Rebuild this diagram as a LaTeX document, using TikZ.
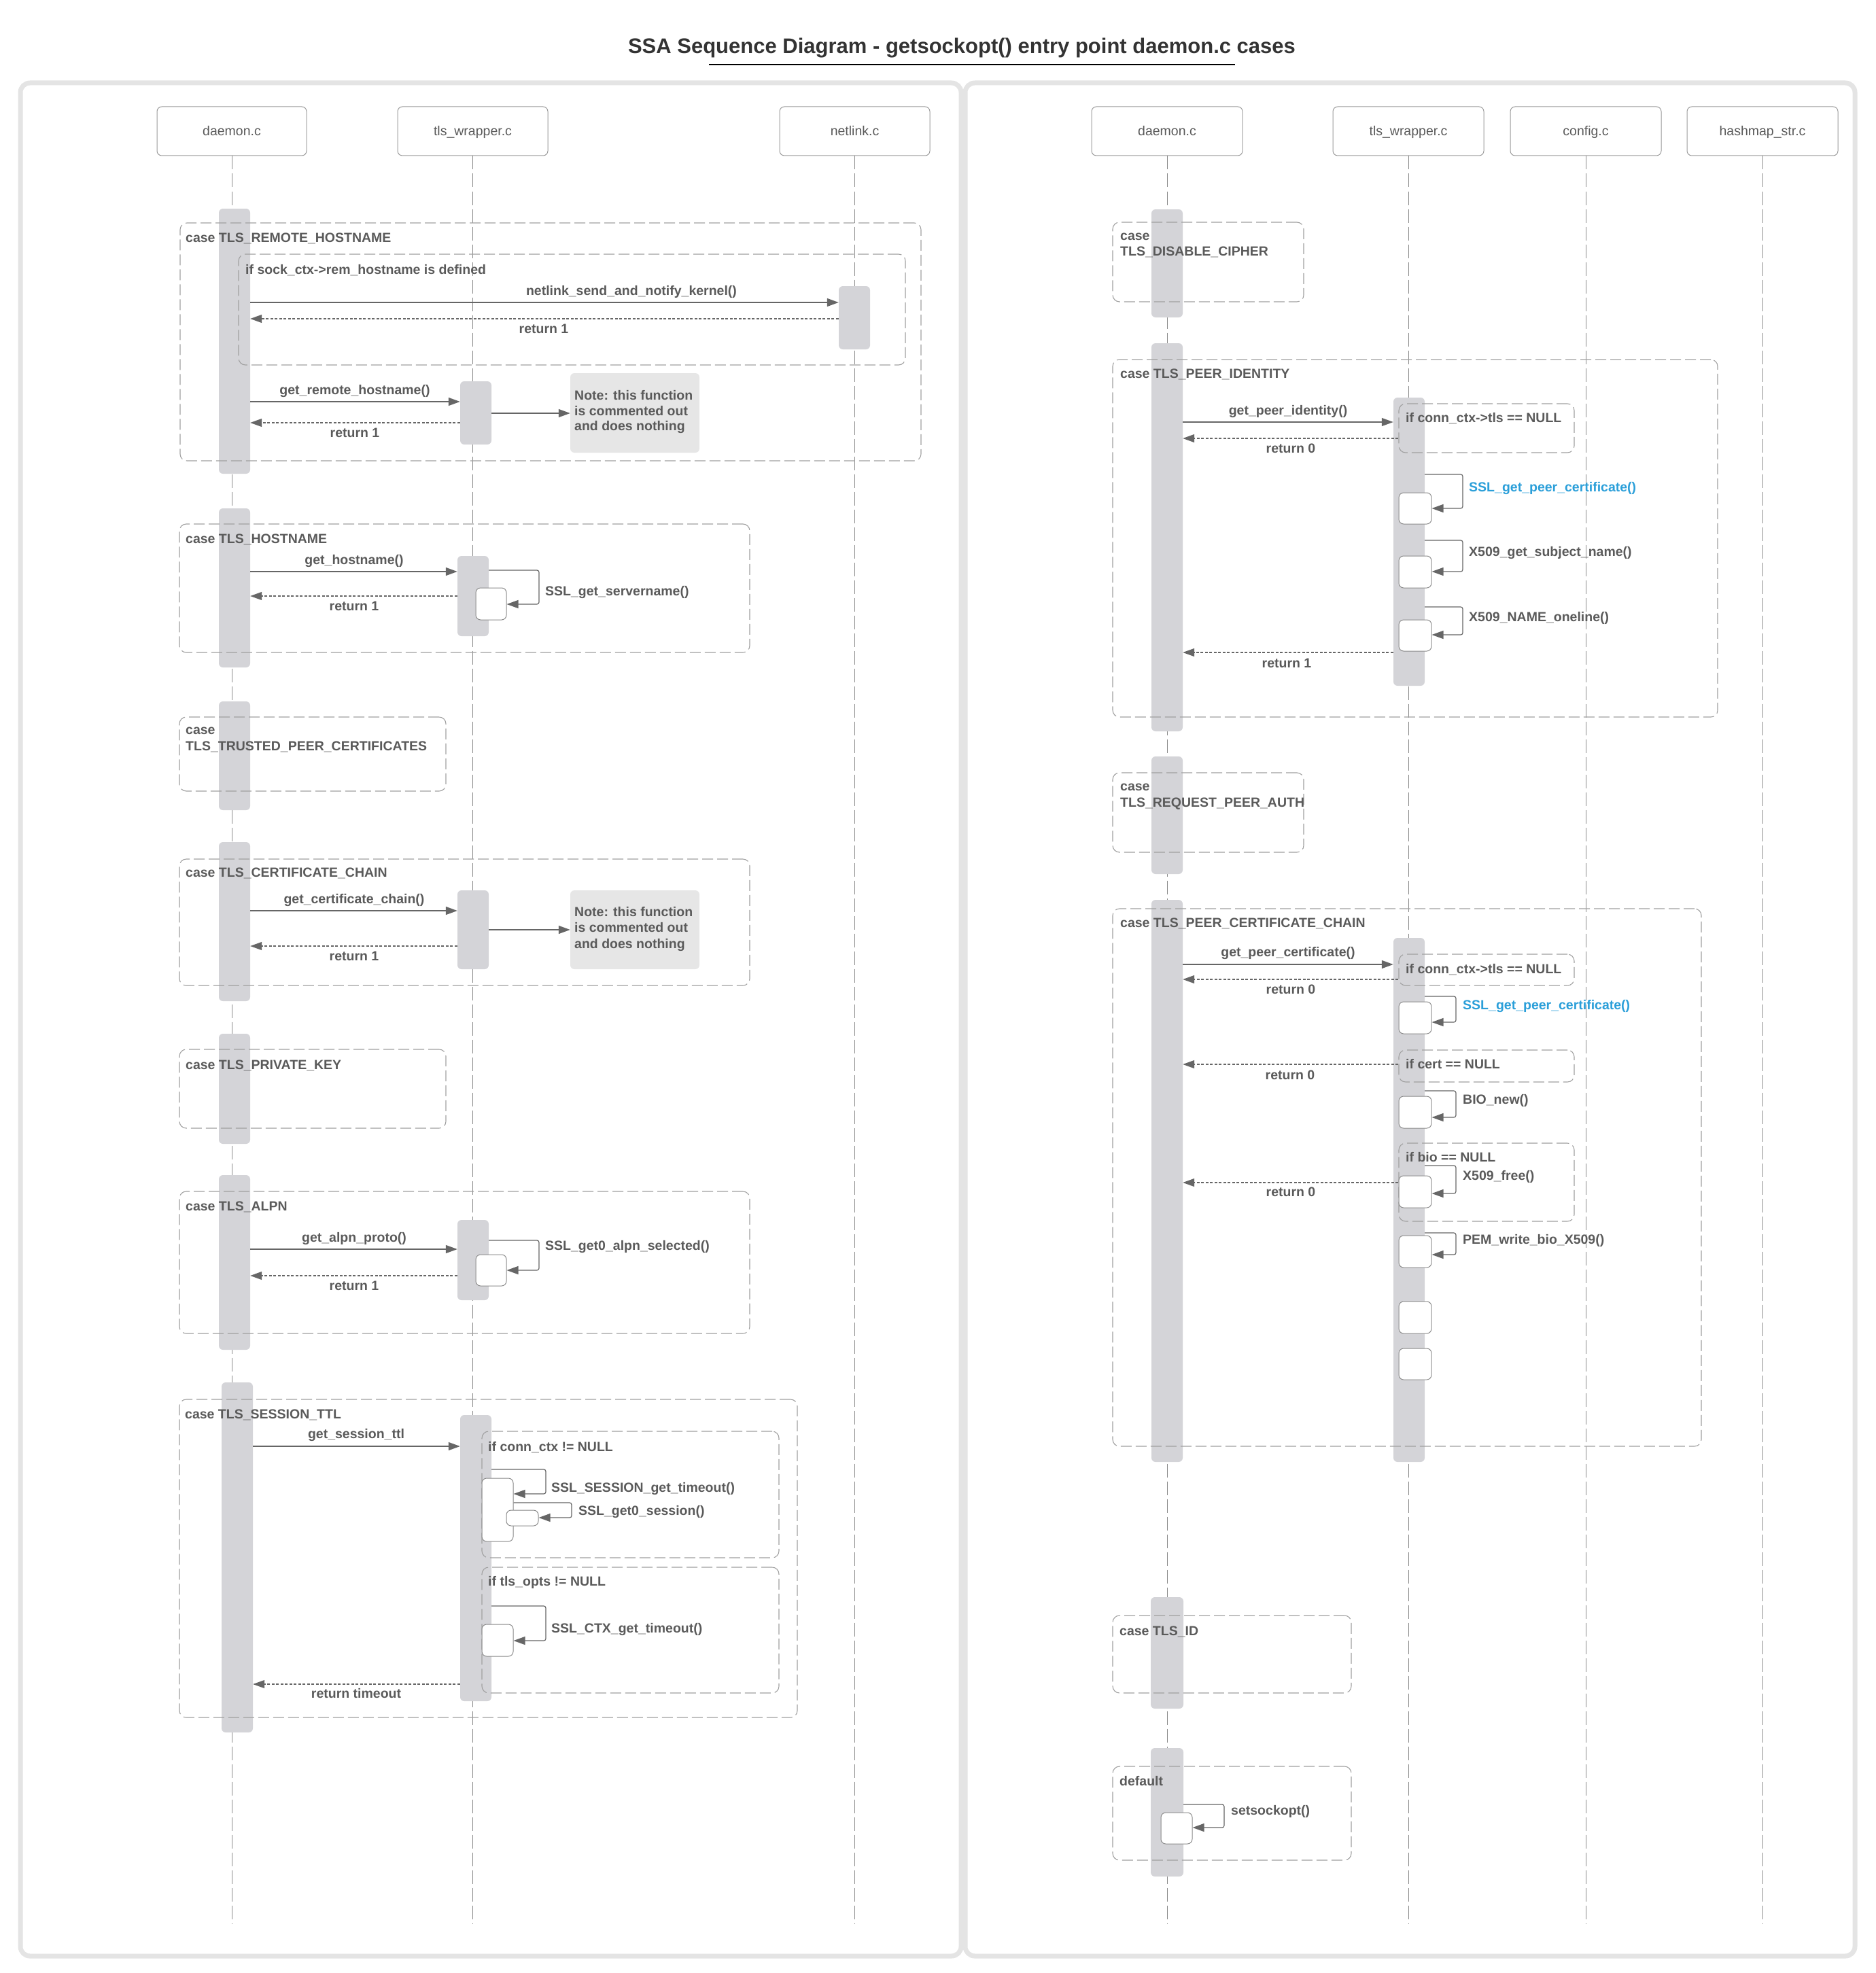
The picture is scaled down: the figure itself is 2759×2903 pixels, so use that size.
\documentclass[tikz,border=0pt]{standalone}
\usepackage{fontspec}
\setmainfont{Liberation Sans}
\usetikzlibrary{arrows.meta,fit,calc}

\definecolor{ink}{HTML}{5A5A5A}
\definecolor{titleink}{HTML}{333333}
\definecolor{panelcol}{HTML}{E4E4E4}
\definecolor{headline}{HTML}{9A9A9A}
\definecolor{lifecol}{HTML}{8A8A8A}
\definecolor{barcol}{HTML}{D4D4D8}
\definecolor{framecol}{HTML}{A0A0A0}
\definecolor{boxline}{HTML}{8A8A8A}
\definecolor{notecol}{HTML}{E6E6E6}
\definecolor{arrowcol}{HTML}{666666}
\definecolor{sslblue}{HTML}{2B9FD9}

\begin{document}
\begin{tikzpicture}[x=1pt,y=-1pt,
  panel/.style={draw=panelcol, line width=7pt, rounded corners=14pt},
  head/.style={draw=headline, fill=white, line width=1pt, rounded corners=7pt, inner sep=0pt},
  headtext/.style={font=\fontsize{19.5}{23}\selectfont, text=ink, inner sep=0pt, anchor=base, yshift=-7pt},
  lifeline/.style={draw=lifecol, line width=1pt, dash pattern=on 20pt off 6pt},
  actbar/.style={fill=barcol, draw=none, rounded corners=6pt, inner sep=0pt},
  frame/.style={draw=framecol, line width=1.1pt, dash pattern=on 16pt off 6pt, rounded corners=10pt, inner sep=0pt},
  selfbox/.style={draw=boxline, fill=white, line width=1pt, rounded corners=7pt, inner sep=0pt},
  note/.style={fill=notecol, rounded corners=6pt, inner sep=0pt},
  tip/.style={-{Triangle[length=17pt,width=12pt]}},
  call/.style={draw=arrowcol, line width=1.4pt, tip},
  ret/.style={draw=arrowcol, line width=1.1pt, dash pattern=on 4pt off 2.5pt, tip},
  selfc/.style={draw=arrowcol, line width=1.2pt, rounded corners=3pt, tip},
  lbl/.style={font=\bfseries\fontsize{19.5}{23}\selectfont, text=ink, inner sep=0pt, anchor=base west, yshift=-7pt},
  clbl/.style={lbl, anchor=base},
  bluelbl/.style={lbl, text=sslblue}
]
\useasboundingbox (0,0) rectangle (2759,2903);

% ---------- title ----------
\node[font=\bfseries\fontsize{31}{37}\selectfont, text=titleink, inner sep=0pt, anchor=base] (title) at (1415,79)
  {SSA Sequence Diagram - getsockopt() entry point daemon.c cases};
\draw[line width=1.5pt, black] (1043,95) -- (1817,95);

% ---------- panels ----------
\draw[panel] (30,122) rectangle (1414,2878);
\draw[panel] (1420,122) rectangle (2729,2878);

% ---------- participants ----------
\node[head, fit={(231,157) (451,229)}] (hLd) {};
\node[head, fit={(585,157) (806,229)}] (hLt) {};
\node[head, fit={(1147,157) (1368,229)}] (hLn) {};
\node[head, fit={(1606,157) (1828,229)}] (hRd) {};
\node[head, fit={(1961,157) (2183,229)}] (hRt) {};
\node[head, fit={(2222,157) (2444,229)}] (hRc) {};
\node[head, fit={(2482,157) (2704,229)}] (hRh) {};
\node[headtext] at (hLd.center) {daemon.c};
\node[headtext] at (hLt.center) {tls\_wrapper.c};
\node[headtext] at (hLn.center) {netlink.c};
\node[headtext] at (hRd.center) {daemon.c};
\node[headtext] at (hRt.center) {tls\_wrapper.c};
\node[headtext] at (hRc.center) {config.c};
\node[headtext] at (hRh.center) {hashmap\_str.c};

\foreach \h in {hLd,hLt,hLn,hRd,hRt,hRc,hRh}
  \draw[lifeline] (\h.south) -- (\h.south |- 0,2831);

% ---------- activation bars ----------
\node[actbar, fit={(322,307) (368,697)}] (aL1) {};
\node[actbar, fit={(322,748) (368,982)}] (aL2) {};
\node[actbar, fit={(322,1032) (368,1192)}] (aL3) {};
\node[actbar, fit={(322,1239) (368,1473)}] (aL4) {};
\node[actbar, fit={(322,1521) (368,1683)}] (aL5) {};
\node[actbar, fit={(322,1729) (368,1986)}] (aL6) {};
\node[actbar, fit={(326,2034) (372,2549)}] (aL7) {};
\node[actbar, fit={(677,561) (723,654)}] (tL1) {};
\node[actbar, fit={(673,818) (719,936)}] (tL2) {};
\node[actbar, fit={(673,1310) (719,1426)}] (tL4) {};
\node[actbar, fit={(673,1795) (719,1913)}] (tL6) {};
\node[actbar, fit={(677,2082) (723,2503)}] (tL7) {};
\node[actbar, fit={(1234,421) (1280,514)}] (nL1) {};

\node[actbar, fit={(1694,308) (1740,467)}] (aR1) {};
\node[actbar, fit={(1694,505) (1740,1076)}] (aR2) {};
\node[actbar, fit={(1694,1113) (1740,1286)}] (aR3) {};
\node[actbar, fit={(1694,1324) (1740,2151)}] (aR4) {};
\node[actbar, fit={(1693,2350) (1741,2514)}] (aR5) {};
\node[actbar, fit={(1693,2572) (1741,2761)}] (aR6) {};
\node[actbar, fit={(2050,585) (2096,1009)}] (tR2) {};
\node[actbar, fit={(2050,1380) (2096,2151)}] (tR4) {};

% ---------- combined fragments ----------
\node[frame, fit={(265,328) (1355,678)}] (fL1) {};
\node[frame, fit={(351,374) (1332,537)}] (fL1i) {};
\node[frame, fit={(264,771) (1103,960)}] (fL2) {};
\node[frame, fit={(264,1055) (656,1164)}] (fL3) {};
\node[frame, fit={(264,1264) (1103,1450)}] (fL4) {};
\node[frame, fit={(264,1544) (656,1660)}] (fL5) {};
\node[frame, fit={(264,1753) (1103,1962)}] (fL6) {};
\node[frame, fit={(264,2059) (1173,2527)}] (fL7) {};
\node[frame, fit={(709,2106) (1146,2292)}] (fL7a) {};
\node[frame, fit={(709,2306) (1146,2491)}] (fL7b) {};

\node[frame, fit={(1637,327) (1918,444)}] (fR1) {};
\node[frame, fit={(1637,529) (2527,1055)}] (fR2) {};
\node[frame, fit={(2058,594) (2316,666)}] (fR2a) {};
\node[frame, fit={(1637,1137) (1918,1254)}] (fR3) {};
\node[frame, fit={(1637,1337) (2503,2128)}] (fR4) {};
\node[frame, fit={(2058,1404) (2316,1450)}] (fR4a) {};
\node[frame, fit={(2058,1545) (2316,1592)}] (fR4b) {};
\node[frame, fit={(2058,1682) (2316,1797)}] (fR4c) {};
\node[frame, fit={(1637,2377) (1988,2491)}] (fR5) {};
\node[frame, fit={(1637,2599) (1988,2737)}] (fR6) {};

% ---------- notes ----------
\node[note, fit={(839,549) (1029,666)}] (note1) {};
\node[note, fit={(839,1310) (1029,1426)}] (note2) {};

% ---------- nested execution boxes ----------
\node[selfbox, fit={(700,865) (745,912)}] (sb2) {};
\node[selfbox, fit={(700,1846) (745,1892)}] (sb6) {};
\node[selfbox, fit={(709,2175) (755,2268)}] (sb7a) {};
\node[selfbox, fit={(745,2222) (792,2245)}] (sb7b) {};
\node[selfbox, fit={(709,2390) (755,2437)}] (sb7c) {};

\node[selfbox, fit={(2058,725) (2106,771)}] (sbR2a) {};
\node[selfbox, fit={(2058,818) (2106,865)}] (sbR2b) {};
\node[selfbox, fit={(2058,912) (2106,958)}] (sbR2c) {};
\node[selfbox, fit={(2058,1474) (2106,1521)}] (sbR4a) {};
\node[selfbox, fit={(2058,1613) (2106,1660)}] (sbR4b) {};
\node[selfbox, fit={(2058,1730) (2106,1777)}] (sbR4c) {};
\node[selfbox, fit={(2058,1818) (2106,1865)}] (sbR4d) {};
\node[selfbox, fit={(2058,1915) (2106,1962)}] (sbR4e) {};
\node[selfbox, fit={(2058,1984) (2106,2030)}] (sbR4f) {};
\node[selfbox, fit={(1708,2667) (1754,2713)}] (sbR6) {};

% ---------- messages: left panel ----------
\draw[call] (aL1.east |- 0,445) -- (nL1.west |- 0,445);
\draw[ret]  (nL1.west |- 0,469) -- (aL1.east |- 0,469);
\draw[call] (aL1.east |- 0,591) -- (tL1.west |- 0,591);
\draw[ret]  (tL1.west |- 0,622) -- (aL1.east |- 0,622);
\draw[call] (tL1.east |- 0,608) -- (note1.west |- 0,608);

\draw[call] (aL2.east |- 0,841) -- (tL2.west |- 0,841);
\draw[selfc] (tL2.east |- 0,839) -| (793,889) -- (sb2.east |- 0,889);
\draw[ret]  (tL2.west |- 0,877) -- (aL2.east |- 0,877);

\draw[call] (aL4.east |- 0,1340) -- (tL4.west |- 0,1340);
\draw[ret]  (tL4.west |- 0,1392) -- (aL4.east |- 0,1392);
\draw[call] (tL4.east |- 0,1368) -- (note2.west |- 0,1368);

\draw[call] (aL6.east |- 0,1838) -- (tL6.west |- 0,1838);
\draw[selfc] (tL6.east |- 0,1825) -| (793,1869) -- (sb6.east |- 0,1869);
\draw[ret]  (tL6.west |- 0,1877) -- (aL6.east |- 0,1877);

\draw[call] (aL7.east |- 0,2128) -- (tL7.west |- 0,2128);
\draw[selfc] (tL7.east |- 0,2162) -| (803,2198) -- (sb7a.east |- 0,2198);
\draw[selfc] (sb7a.east |- 0,2211) -| (841,2233) -- (sb7b.east |- 0,2233);
\draw[selfc] (tL7.east |- 0,2363) -| (803,2414) -- (sb7c.east |- 0,2414);
\draw[ret]  (tL7.west |- 0,2478) -- (aL7.east |- 0,2478);

% ---------- messages: right panel ----------
\draw[call] (aR2.east |- 0,621) -- (tR2.west |- 0,621);
\draw[ret]  (fR2a.west |- 0,645) -- (aR2.east |- 0,645);
\draw[selfc] (tR2.east |- 0,698) -| (2152,748) -- (sbR2a.east |- 0,748);
\draw[selfc] (tR2.east |- 0,795) -| (2152,841) -- (sbR2b.east |- 0,841);
\draw[selfc] (tR2.east |- 0,893) -| (2152,934) -- (sbR2c.east |- 0,934);
\draw[ret]  (tR2.west |- 0,960) -- (aR2.east |- 0,960);

\draw[call] (aR4.east |- 0,1419) -- (tR4.west |- 0,1419);
\draw[ret]  (fR4a.west |- 0,1441) -- (aR4.east |- 0,1441);
\draw[selfc] (tR4.east |- 0,1466) -| (2142,1504) -- (sbR4a.east |- 0,1504);
\draw[ret]  (fR4b.west |- 0,1566) -- (aR4.east |- 0,1566);
\draw[selfc] (tR4.east |- 0,1605) -| (2142,1644) -- (sbR4b.east |- 0,1644);
\draw[selfc] (tR4.east |- 0,1715) -| (2142,1756) -- (sbR4c.east |- 0,1756);
\draw[ret]  (fR4c.west |- 0,1740) -- (aR4.east |- 0,1740);
\draw[selfc] (tR4.east |- 0,1814) -| (2142,1846) -- (sbR4d.east |- 0,1846);

\draw[selfc] (aR6.east |- 0,2655) -| (1801,2689) -- (sbR6.east |- 0,2689);

% ---------- fragment labels ----------
\node[lbl] (lfL1) at (273,349) {case TLS\_REMOTE\_HOSTNAME};
\node[lbl] (lfL1i) at (361,396) {if sock\_ctx->rem\_hostname is defined};
\node[lbl] (lfL2) at (273,792) {case TLS\_HOSTNAME};
\node[lbl] (lfL3a) at (273,1073) {case};
\node[lbl] (lfL3b) at (273,1097) {TLS\_TRUSTED\_PEER\_CERTIFICATES};
\node[lbl] (lfL4) at (273,1283) {case TLS\_CERTIFICATE\_CHAIN};
\node[lbl] (lfL5) at (273,1566) {case TLS\_PRIVATE\_KEY};
\node[lbl] (lfL6) at (273,1774) {case TLS\_ALPN};
\node[lbl] (lfL7) at (272,2080) {case TLS\_SESSION\_TTL};
\node[lbl] (lfL7a) at (718,2128) {if conn\_ctx != NULL};
\node[lbl] (lfL7b) at (718,2326) {if tls\_opts != NULL};

\node[lbl] (lfR1a) at (1648,346) {case};
\node[lbl] (lfR1b) at (1648,369) {TLS\_DISABLE\_CIPHER};
\node[lbl] (lfR2) at (1648,549) {case TLS\_PEER\_IDENTITY};
\node[lbl] (lfR2a) at (2068,614) {if conn\_ctx->tls == NULL};
\node[lbl] (lfR3a) at (1648,1156) {case};
\node[lbl] (lfR3b) at (1648,1180) {TLS\_REQUEST\_PEER\_AUTH};
\node[lbl] (lfR4) at (1648,1357) {case TLS\_PEER\_CERTIFICATE\_CHAIN};
\node[lbl] (lfR4a) at (2068,1425) {if conn\_ctx->tls == NULL};
\node[lbl] (lfR4b) at (2068,1565) {if cert == NULL};
\node[lbl] (lfR4c) at (2068,1702) {if bio == NULL};
\node[lbl] (lfR5) at (1647,2399) {case TLS\_ID};
\node[lbl] (lfR6) at (1647,2620) {default};

% ---------- message labels ----------
\node[clbl] at (929,427) {netlink\_send\_and\_notify\_kernel()};
\node[clbl] at (800,483) {return 1};
\node[clbl] at (522,573) {get\_remote\_hostname()};
\node[clbl] at (522,636) {return 1};
\node[clbl] at (521,823) {get\_hostname()};
\node[clbl] at (521,891) {return 1};
\node[lbl]  at (802,869) {SSL\_get\_servername()};
\node[clbl] at (521,1322) {get\_certificate\_chain()};
\node[clbl] at (521,1406) {return 1};
\node[clbl] at (521,1820) {get\_alpn\_proto()};
\node[clbl] at (521,1891) {return 1};
\node[lbl]  at (802,1832) {SSL\_get0\_alpn\_selected()};
\node[clbl] at (524,2109) {get\_session\_ttl};
\node[lbl]  at (811,2188) {SSL\_SESSION\_get\_timeout()};
\node[lbl]  at (851,2222) {SSL\_get0\_session()};
\node[lbl]  at (811,2395) {SSL\_CTX\_get\_timeout()};
\node[clbl] at (524,2491) {return timeout};

\foreach \ya/\yb/\yc in {581/604/626, 1341/1364/1388} {
  \node[lbl] at (845,\ya) {Note: this function};
  \node[lbl] at (845,\yb) {is commented out};
  \node[lbl] at (845,\yc) {and does nothing};
}

\node[clbl] at (1895,603) {get\_peer\_identity()};
\node[clbl] at (1899,659) {return 0};
\node[bluelbl] at (2161,716) {SSL\_get\_peer\_certificate()};
\node[lbl]  at (2161,811) {X509\_get\_subject\_name()};
\node[lbl]  at (2161,907) {X509\_NAME\_oneline()};
\node[clbl] at (1893,975) {return 1};

\node[clbl] at (1895,1400) {get\_peer\_certificate()};
\node[clbl] at (1899,1455) {return 0};
\node[bluelbl] at (2152,1478) {SSL\_get\_peer\_certificate()};
\node[clbl] at (1898,1581) {return 0};
\node[lbl]  at (2152,1617) {BIO\_new()};
\node[lbl]  at (2152,1729) {X509\_free()};
\node[clbl] at (1899,1753) {return 0};
\node[lbl]  at (2152,1823) {PEM\_write\_bio\_X509()};

\node[lbl]  at (1811,2663) {setsockopt()};
\end{tikzpicture}
\end{document}
